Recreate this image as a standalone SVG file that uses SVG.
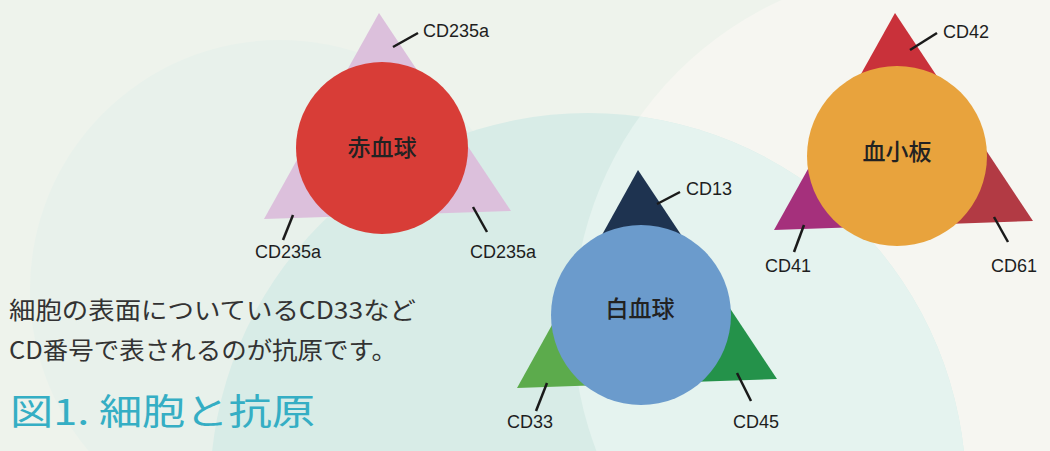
<svg xmlns="http://www.w3.org/2000/svg" width="1050" height="451" viewBox="0 0 1050 451">
  <defs>
    <clipPath id="whiteClip">
      <circle cx="929" cy="324" r="356"/>
    </clipPath>
    <style>
      .lbl { font-family: "Liberation Sans", Arial, sans-serif; font-size: 18px; fill: #1e1e1e; }
      .cell { font-family: "Noto Sans CJK JP", sans-serif; font-size: 23px; fill: #222; text-anchor: middle; font-weight: 500; }
      .body { font-family: "Noto Sans CJK JP", sans-serif; font-size: 24px; fill: #333; }
      .title { font-family: "Noto Sans CJK JP", sans-serif; font-size: 36px; fill: #35aec4; font-weight: 400; }
      .tick { stroke: #1a1a1a; stroke-width: 2.5; stroke-linecap: butt; }
    </style>
  </defs>

  <!-- background -->
  <rect x="0" y="0" width="1050" height="451" fill="#eef3ec"/>
  <circle cx="280" cy="290" r="250" fill="#e8f1eb"/>
  <circle cx="929" cy="324" r="356" fill="#f6f6f1"/>
  <circle cx="588" cy="491" r="378" fill="#d8ece7"/>
  <circle cx="588" cy="491" r="378" fill="#e5f3ef" clip-path="url(#whiteClip)"/>

  <!-- red blood cell -->
  <g id="rbc">
    <polygon points="379,13 264,219 511,211" fill="#dcc0dc"/>
    <circle cx="382" cy="148" r="86" fill="#d83d37"/>
    <text class="cell" x="382" y="156">赤血球</text>
  </g>

  <!-- white blood cell -->
  <g id="wbc">
    <polygon points="638,170 577.5,279 644,312 707.5,274.5" fill="#1e3350"/>
    <polygon points="517,388 577.5,279 644,312 647,383.5" fill="#5cab4c"/>
    <polygon points="777,379 707.5,274.5 644,312 647,383.5" fill="#24924a"/>
    <circle cx="641" cy="315" r="90" fill="#6b9bcc"/>
    <text class="cell" x="640" y="317">白血球</text>
  </g>

  <!-- platelet -->
  <g id="plt">
    <polygon points="895,13 834.5,121.5 900.7,154.7 964,117" fill="#c9313a"/>
    <polygon points="774,230 834.5,121.5 900.7,154.7 903.5,225.5" fill="#a5307c"/>
    <polygon points="1033,221 964,117 900.7,154.7 903.5,225.5" fill="#b23a44"/>
    <circle cx="897" cy="156" r="90" fill="#e8a33d"/>
    <text class="cell" x="897" y="160">血小板</text>
  </g>

  <!-- connectors (leader lines) -->
  <g id="connectors">
    <line class="tick" x1="393" y1="47" x2="418" y2="33"/>
    <line class="tick" x1="293" y1="215" x2="283" y2="240"/>
    <line class="tick" x1="473" y1="207" x2="487" y2="232"/>
    <line class="tick" x1="657" y1="204" x2="680" y2="192"/>
    <line class="tick" x1="547" y1="383" x2="536" y2="411"/>
    <line class="tick" x1="737" y1="373" x2="751" y2="401"/>
    <line class="tick" x1="910" y1="50" x2="937" y2="33"/>
    <line class="tick" x1="804" y1="225" x2="794" y2="252"/>
    <line class="tick" x1="994" y1="217" x2="1008" y2="242"/>
  </g>

  <!-- antigen labels -->
  <g id="labels">
    <text class="lbl" x="423" y="37">CD235a</text>
    <text class="lbl" x="255" y="258">CD235a</text>
    <text class="lbl" x="470" y="258">CD235a</text>
    <text class="lbl" x="686" y="195">CD13</text>
    <text class="lbl" x="507" y="428">CD33</text>
    <text class="lbl" x="733" y="428">CD45</text>
    <text class="lbl" x="943" y="38">CD42</text>
    <text class="lbl" x="765" y="272">CD41</text>
    <text class="lbl" x="991" y="272">CD61</text>
  </g>

  <!-- caption -->
  <g id="caption">
    <text class="body" x="9" y="319" textLength="407" lengthAdjust="spacingAndGlyphs">細胞の表面についているCD33など</text>
    <text class="body" x="9" y="359" textLength="388" lengthAdjust="spacingAndGlyphs">CD番号で表されるのが抗原です。</text>
    <text class="title" x="10" y="425" textLength="305" lengthAdjust="spacingAndGlyphs">図1. 細胞と抗原</text>
  </g>
</svg>
